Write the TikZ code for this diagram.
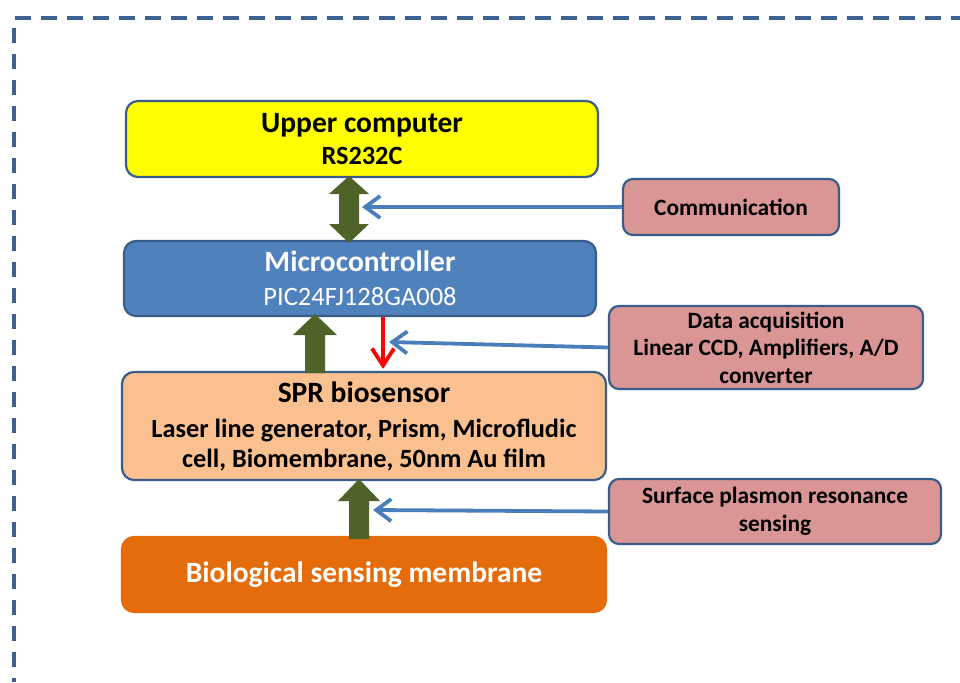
\documentclass[tikz,border=0pt]{standalone}
\usepackage{fontspec}
\setmainfont{Carlito}
\usetikzlibrary{arrows.meta}

\definecolor{edgeblue}{HTML}{385D8A}
\definecolor{frameblue}{HTML}{3D6292}
\definecolor{hostyellow}{HTML}{FFFF00}
\definecolor{mcublue}{HTML}{4F81BD}
\definecolor{sprpeach}{HTML}{FAC090}
\definecolor{memorange}{HTML}{E46C0A}
\definecolor{notepink}{HTML}{D99694}
\definecolor{flowgreen}{HTML}{4F6228}
\definecolor{linkblue}{HTML}{4A7EBB}

\begin{document}
\begin{tikzpicture}[x=1pt,y=-1pt,
  mainbox/.style={draw=edgeblue, line width=2.2pt, rounded corners=12pt,
    align=center, inner sep=0pt, font=\fontsize{26.3}{30}\selectfont\bfseries},
  notebox/.style={draw=edgeblue, line width=2.2pt, rounded corners=10pt, fill=notepink,
    align=center, inner sep=0pt, font=\fontsize{23.4}{27.5}\selectfont\bfseries},
  link/.style={draw=linkblue, line width=3.8pt, -{Straight Barb[length=15pt,width=22pt]}},
  blockarrow/.style={fill=flowgreen, draw=none},
  frameline/.style={draw=frameblue, line width=3.5pt}
]
\useasboundingbox (0,0) rectangle (960,682);

% dashed outer frame
\draw[frameline, dash pattern=on 16pt off 10pt] (15,18) -- (960,18);
\draw[frameline, dash pattern=on 15pt off 11pt] (14,28) -- (14,682);

% main blocks
\node[mainbox, fill=hostyellow, minimum width=472pt, minimum height=76pt] (host) at (362,139)
  {{\fontsize{29.5}{30}\selectfont Upper computer}\\[2pt]RS232C};
\node[mainbox, fill=mcublue, text=white, minimum width=472pt, minimum height=75pt] (mcu) at (360,278.5)
  {{\fontsize{29.5}{30}\selectfont Microcontroller}\\[4pt]{\mdseries\fontsize{26.5}{30}\selectfont PIC24FJ128GA008}};
\node[mainbox, fill=sprpeach, minimum width=484pt, minimum height=108pt] (spr) at (364,426)
  {{\fontsize{29.5}{30}\selectfont SPR biosensor}\\[5pt]Laser line generator,\ Prism,\ Microfludic\\cell, Biomembrane,\ 50nm Au film};
\node[mainbox, draw=memorange, fill=memorange, text=white, minimum width=484pt, minimum height=75pt] (bio) at (364,574.5)
  {\fontsize{29.5}{30}\selectfont Biological sensing membrane};

% side notes
\node[notebox, minimum width=216pt, minimum height=56pt] (comm) at (731,207) {Communication};
\node[notebox, minimum width=314pt, minimum height=83pt] (daq) at (766,347.5)
  {Data acquisition\\Linear CCD, Amplifiers, A/D\\converter};
\node[notebox, minimum width=332pt, minimum height=65pt] (spsense) at (775,511.5)
  {Surface plasmon resonance\\sensing};

% block arrows between layers
\fill[blockarrow] (349,176) -- (369,194) -- (359,194) -- (359,224) -- (369,224)
  -- (349,243) -- (329,224) -- (339,224) -- (339,194) -- (329,194) -- cycle;
\fill[blockarrow] (315,314) -- (337,335) -- (325,335) -- (325,373) -- (305,373)
  -- (305,335) -- (293,335) -- cycle;
\fill[blockarrow] (359,479) -- (380,501) -- (369,501) -- (369,539) -- (349,539)
  -- (349,501) -- (338,501) -- cycle;

% data flow from microcontroller to sensor
\coordinate (redend) at (383,369);
\draw[draw=red, line width=3.8pt, -{Straight Barb[length=17pt,width=22pt]}] (mcu.south -| redend) -- (redend);

% function links
\coordinate (commtip) at (362,207);
\coordinate (daqtip) at (389,342);
\coordinate (spstip) at (373,510);
\draw[link] (comm.west) -- (commtip);
\draw[link] (daq.west) -- (daqtip);
\draw[link] (spsense.west) -- (spstip);
\end{tikzpicture}
\end{document}
